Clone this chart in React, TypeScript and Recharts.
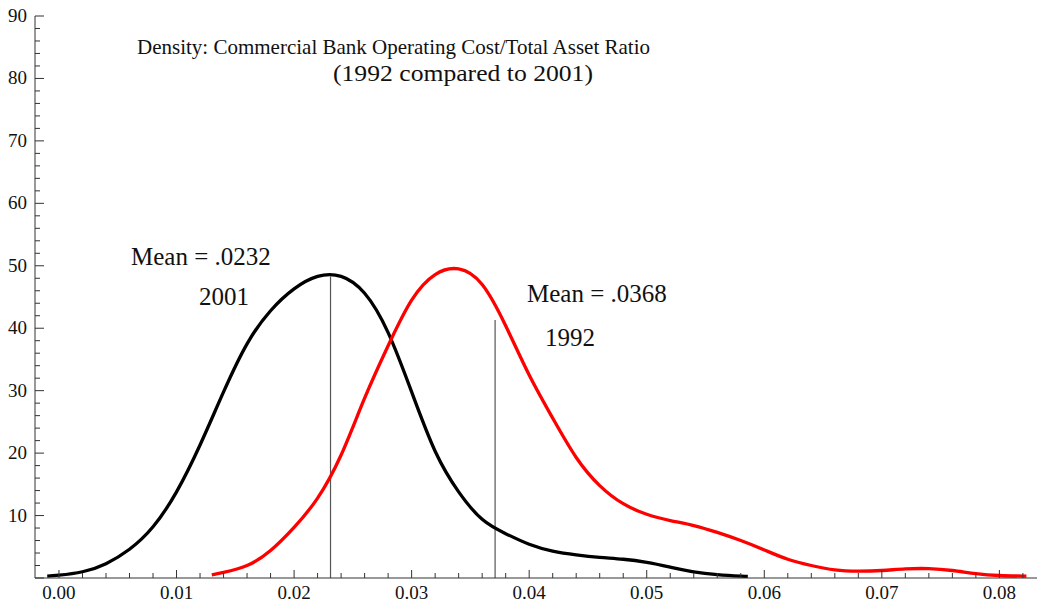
import React from "react";
import { LineChart, Line, XAxis, YAxis, ReferenceLine } from "recharts";

// 2001 density curve
const x2001 = [-0.001, 0, 0.002, 0.004, 0.006, 0.008, 0.01, 0.012, 0.014, 0.016, 0.018, 0.02, 0.022, 0.024, 0.026, 0.028, 0.03, 0.032, 0.034, 0.036, 0.038, 0.04, 0.042, 0.044, 0.046, 0.048, 0.05, 0.052, 0.054, 0.056, 0.058, 0.0586];
const density2001 = [0.3, 0.45, 1.0, 2.3, 4.6, 8.2, 13.8, 21.3, 29.8, 37.5, 42.8, 46.3, 48.3, 48.3, 45.6, 39.3, 29.8, 20.3, 13.8, 9.4, 7.1, 5.4, 4.3, 3.7, 3.3, 3.0, 2.5, 1.75, 1.0, 0.55, 0.3, 0.25];

// 1992 density curve
const x1992 = [0.013, 0.014, 0.016, 0.018, 0.02, 0.022, 0.024, 0.026, 0.028, 0.03, 0.032, 0.034, 0.036, 0.038, 0.04, 0.042, 0.044, 0.046, 0.048, 0.05, 0.052, 0.054, 0.056, 0.058, 0.06, 0.062, 0.064, 0.066, 0.068, 0.07, 0.072, 0.074, 0.076, 0.078, 0.08, 0.0823];
const density1992 = [0.5, 0.9, 2.0, 4.4, 8.1, 12.8, 19.7, 28.8, 37.2, 44.5, 48.6, 49.5, 47.0, 40.4, 32.5, 25.6, 19.3, 14.8, 11.9, 10.2, 9.2, 8.4, 7.3, 6.0, 4.5, 3.0, 2.0, 1.3, 1.1, 1.2, 1.45, 1.5, 1.2, 0.7, 0.4, 0.3];

// mean markers
const meanX = [0.0231, 0.0371];
const meanTop = [48.3, 41.3];

// axis ticks
const xTicks = [0, 0.002, 0.004, 0.006, 0.008, 0.01, 0.012, 0.014, 0.016, 0.018, 0.02, 0.022, 0.024, 0.026, 0.028, 0.03, 0.032, 0.034, 0.036, 0.038, 0.04, 0.042, 0.044, 0.046, 0.048, 0.05, 0.052, 0.054, 0.056, 0.058, 0.06, 0.062, 0.064, 0.066, 0.068, 0.07, 0.072, 0.074, 0.076, 0.078, 0.08, 0.082];
const yTicks = [0, 2, 4, 6, 8, 10, 12, 14, 16, 18, 20, 22, 24, 26, 28, 30, 32, 34, 36, 38, 40, 42, 44, 46, 48, 50, 52, 54, 56, 58, 60, 62, 64, 66, 68, 70, 72, 74, 76, 78, 80, 82, 84, 86, 88, 90];

const titleLines = ["Density: Commercial Bank Operating Cost/Total Asset Ratio", "(1992 compared to 2001)"];
const annotations = ["Mean = .0232", "2001", "Mean = .0368", "1992"];

const data2001 = x2001.map((x, i) => ({ x, y: density2001[i] }));
const data1992 = x1992.map((x, i) => ({ x, y: density1992[i] }));

const FONT = "'Liberation Serif', 'Times New Roman', serif";

const XTick = (props: any) => {
  const { x, y, payload } = props;
  const v = payload.value;
  const major = Math.abs(v * 100 - Math.round(v * 100)) < 1e-6;
  return (
    <g>
      <line x1={x} x2={x} y1={y} y2={y - (major ? 8 : 5)} stroke="#333" strokeWidth={1} />
      {major && (
        <text x={x} y={y + 21} textAnchor="middle" fontFamily={FONT} fontSize={19} fill="#111">
          {v.toFixed(2)}
        </text>
      )}
    </g>
  );
};

const YTick = (props: any) => {
  const { x, y, payload } = props;
  const v = payload.value;
  const major = v % 10 === 0;
  return (
    <g>
      <line x1={x} x2={x + (major ? 9 : 5)} y1={y} y2={y} stroke="#333" strokeWidth={1} />
      {major && v !== 0 && (
        <text x={x - 8} y={y + 6} textAnchor="end" fontFamily={FONT} fontSize={19} fill="#111">
          {v}
        </text>
      )}
    </g>
  );
};

export default function App() {
  return (
    <div style={{ position: "absolute", left: 0, top: 0, width: 1039, height: 606, background: "#fff" }}>
      <LineChart width={1039} height={606} margin={{ top: 16, right: 2, left: 0, bottom: 0 }}>
        <XAxis
          type="number"
          dataKey="x"
          domain={[-0.00204, 0.0832]}
          allowDataOverflow
          ticks={xTicks}
          tick={<XTick />}
          tickLine={false}
          tickSize={0}
          tickMargin={0}
          height={28}
          interval={0}
          stroke="#333"
        />
        <YAxis
          type="number"
          domain={[0, 90]}
          ticks={yTicks}
          tick={<YTick />}
          tickLine={false}
          tickSize={0}
          tickMargin={0}
          width={35}
          interval={0}
          stroke="#333"
        />
        {meanX.map((m, i) => (
          <ReferenceLine
            key={i}
            segment={[{ x: m, y: 0 }, { x: m, y: meanTop[i] }]}
            stroke="#555"
            strokeWidth={1.2}
            ifOverflow="visible"
          />
        ))}
        <Line data={data2001} dataKey="y" type="natural" stroke="#000" strokeWidth={3.3} dot={false} isAnimationActive={false} />
        <Line data={data1992} dataKey="y" type="natural" stroke="#ff0000" strokeWidth={3.3} dot={false} isAnimationActive={false} />
      </LineChart>
      <svg width={1039} height={606} style={{ position: "absolute", left: 0, top: 0, pointerEvents: "none" }}>
        <text x={137} y={54} fontFamily={FONT} fontSize={21} fill="#111">{titleLines[0]}</text>
        <text x={333} y={81} fontFamily={FONT} fontSize={24} fill="#111" textLength={260} lengthAdjust="spacingAndGlyphs">{titleLines[1]}</text>
        <text x={131} y={265} fontFamily={FONT} fontSize={25} fill="#111">{annotations[0]}</text>
        <text x={199} y={305} fontFamily={FONT} fontSize={25} fill="#111">{annotations[1]}</text>
        <text x={527} y={302} fontFamily={FONT} fontSize={25} fill="#111">{annotations[2]}</text>
        <text x={545} y={346} fontFamily={FONT} fontSize={25} fill="#111">{annotations[3]}</text>
      </svg>
    </div>
  );
}
